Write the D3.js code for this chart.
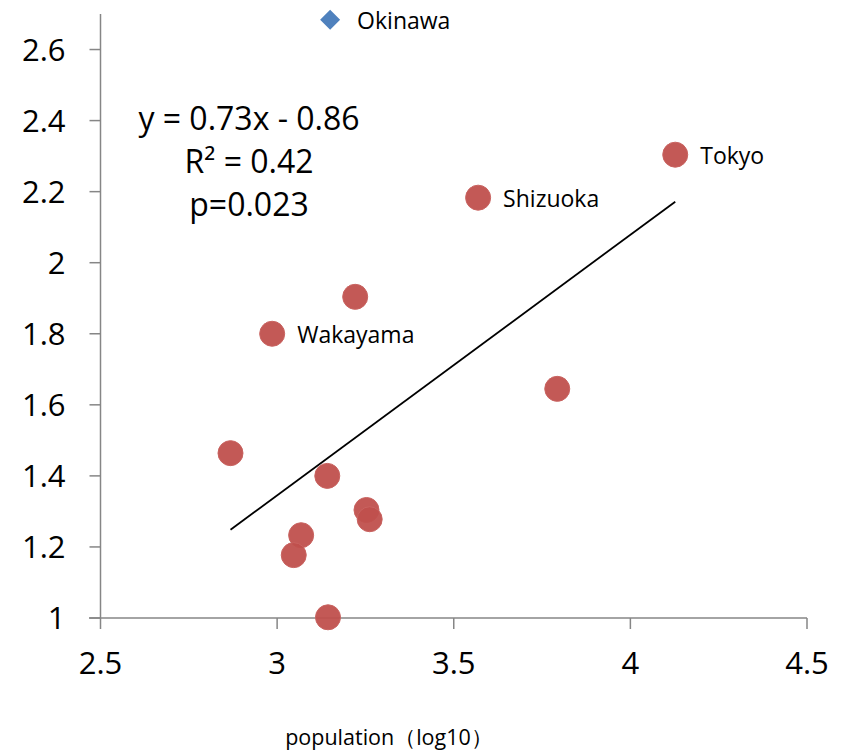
<!DOCTYPE html>
<html>
<head>
<meta charset="utf-8">
<script src="https://cdn.jsdelivr.net/npm/d3@7/dist/d3.min.js"></script>
<style>
  body { margin: 0; background: #fff; }
  svg { display: block; font-family: "Open Sans", "Noto Sans", sans-serif; }
</style>
</head>
<body>
<svg width="846" height="752"></svg>
<script>
// prefecture points: log10 population vs value
const names = ["Tokyo", "Shizuoka", "", "Wakayama", "", "", "", "", "", "", "", ""];
const xVals = [4.127, 3.569, 3.221, 2.986, 3.793, 2.868, 3.142, 3.253, 3.262, 3.068, 3.047, 3.144];
const yVals = [2.304, 2.183, 1.904, 1.800, 1.645, 1.464, 1.400, 1.304, 1.278, 1.233, 1.177, 1.002];

// outlier, left out of the fit
const outlierName = "Okinawa";
const outlierX = 3.150;
const outlierY = 2.684;

const xTicks = [2.5, 3, 3.5, 4, 4.5];
const yTicks = [1, 1.2, 1.4, 1.6, 1.8, 2, 2.2, 2.4, 2.6];
const eqLines = ["y = 0.73x - 0.86", "R² = 0.42", "p=0.023"];

const svg = d3.select("svg");
const x = d3.scaleLinear().domain([2.5, 4.5]).range([100.5, 807]);
const y = d3.scaleLinear().domain([1, 2.7]).range([618, 14]);

const axisColor = "#868686";

// y axis
const gy = svg.append("g").attr("transform", "translate(100.5,0)");
gy.append("line").attr("y1", y(2.7)).attr("y2", y(1))
  .attr("stroke", axisColor).attr("stroke-width", 1.5);
gy.selectAll(".tk").data(yTicks).join("line")
  .attr("x1", -11).attr("x2", 0)
  .attr("y1", d => y(d)).attr("y2", d => y(d))
  .attr("stroke", axisColor).attr("stroke-width", 1.5);
gy.selectAll("text").data(yTicks).join("text")
  .attr("x", -35).attr("y", d => y(d))
  .attr("dy", "0.36em")
  .attr("text-anchor", "end")
  .attr("font-size", 31)
  .text(d => d3.format("")(d));

// x axis
const gx = svg.append("g").attr("transform", "translate(0,618)");
gx.append("line").attr("x1", 89).attr("x2", x(4.5))
  .attr("stroke", axisColor).attr("stroke-width", 1.5);
gx.selectAll(".tk").data(xTicks).join("line")
  .attr("x1", d => x(d)).attr("x2", d => x(d))
  .attr("y1", 0).attr("y2", 11)
  .attr("stroke", axisColor).attr("stroke-width", 1.5);
gx.selectAll("text").data(xTicks).join("text")
  .attr("x", d => x(d)).attr("y", 56)
  .attr("text-anchor", "middle")
  .attr("font-size", 31)
  .text(d => d);

svg.append("text")
  .attr("x", 389).attr("y", 745)
  .attr("text-anchor", "middle")
  .attr("font-size", 21.5)
  .text("population（log10）");

// least squares fit over the red points
const mx = d3.mean(xVals), my = d3.mean(yVals);
let sxy = 0, sxx = 0;
xVals.forEach((v, i) => { sxy += (v - mx) * (yVals[i] - my); sxx += (v - mx) * (v - mx); });
const slope = sxy / sxx;
const icpt = my - slope * mx;
const [x0, x1] = d3.extent(xVals);

svg.append("line")
  .attr("x1", x(x0)).attr("y1", y(slope * x0 + icpt))
  .attr("x2", x(x1)).attr("y2", y(slope * x1 + icpt))
  .attr("stroke", "#000").attr("stroke-width", 1.8);

// points
const pts = xVals.map((v, i) => ({ x: v, y: yVals[i], name: names[i] }));
svg.selectAll(".pt").data(pts).join("circle")
  .attr("class", "pt")
  .attr("cx", d => x(d.x))
  .attr("cy", d => y(d.y))
  .attr("r", 12.5)
  .attr("fill", "#C0504D")
  .attr("fill-opacity", 0.95)
  .attr("stroke", "#C96360")
  .attr("stroke-width", 1);

svg.selectAll(".lbl").data(pts.filter(d => d.name)).join("text")
  .attr("class", "lbl")
  .attr("x", d => x(d.x) + 25)
  .attr("y", d => y(d.y))
  .attr("dy", "0.4em")
  .attr("font-size", 23)
  .text(d => d.name);

// Okinawa diamond
svg.append("path")
  .attr("d", d3.symbol(d3.symbolSquare, 200)())
  .attr("transform", `translate(${x(outlierX)},${y(outlierY)}) rotate(45)`)
  .attr("fill", "#4F81BD");
svg.append("text")
  .attr("x", x(outlierX) + 27).attr("y", y(outlierY))
  .attr("dy", "0.4em")
  .attr("font-size", 23)
  .text(outlierName);

// equation block
svg.selectAll(".eq").data(eqLines).join("text")
  .attr("class", "eq")
  .attr("x", 249).attr("y", (d, i) => 130 + i * 43)
  .attr("text-anchor", "middle")
  .attr("font-size", 32)
  .text(d => d);
</script>
</body>
</html>
